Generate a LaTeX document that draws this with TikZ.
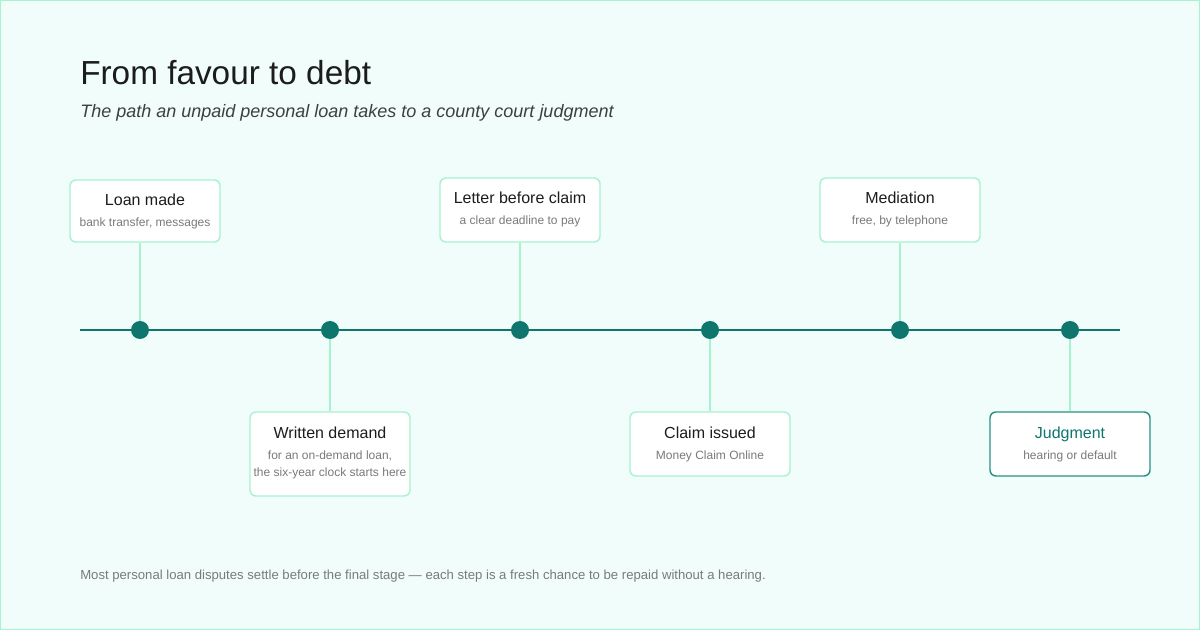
\documentclass[tikz,border=0pt]{standalone}
\usepackage{fontspec}
\setmainfont{Liberation Sans}
\definecolor{bgmint}{HTML}{F0FDFA}
\definecolor{edgemint}{HTML}{A7F3D0}
\definecolor{darkteal}{HTML}{0F766E}
\definecolor{midteal}{HTML}{2A9086}
\definecolor{inkgray}{HTML}{1C1C1C}
\definecolor{subgray}{HTML}{3F3F3F}
\definecolor{notegray}{HTML}{7A7A7A}
\begin{document}
\begin{tikzpicture}[x=0.75pt,y=-0.75pt,
  stepbox/.style={draw=edgemint,fill=white,line width=1.1pt,rounded corners=4.5pt,inner sep=0pt},
  steptitle/.style={anchor=base,inner sep=0pt,font=\fontsize{12}{14}\selectfont,text=inkgray},
  stepnote/.style={anchor=base,inner sep=0pt,font=\fontsize{9}{12.75}\selectfont,text=notegray,align=center},
  stem/.style={draw=edgemint,line width=1.1pt},
  dot/.style={circle,fill=darkteal,minimum size=13.5pt,inner sep=0pt}]
  \useasboundingbox (0,0) rectangle (1200,630);
  \draw[fill=bgmint,draw=edgemint,line width=1pt] (0.5,0.5) rectangle (1199.5,629.5);

  % heading
  \node[anchor=base west,inner sep=0pt,font=\fontsize{25}{29}\selectfont,text=inkgray] (title) at (80,85) {From favour to debt};
  \node[anchor=base west,inner sep=0pt,font=\fontsize{13.5}{16}\selectfont\itshape,text=subgray] (subtitle) at (80,118) {The path an unpaid personal loan takes to a county court judgment};

  % boxes above the line
  \node[stepbox,minimum width=112.5pt,minimum height=46.5pt] (loan) at (145,211) {};
  \node[steptitle] (loant) at (145,206) {Loan made};
  \node[stepnote] (loann) at (145,227) {bank transfer, messages};

  \node[stepbox,minimum width=120pt,minimum height=48pt] (letter) at (520,210) {};
  \node[steptitle] (lettert) at (520,204) {Letter before claim};
  \node[stepnote] (lettern) at (520,225) {a clear deadline to pay};

  \node[stepbox,minimum width=120pt,minimum height=48pt] (mediation) at (900,210) {};
  \node[steptitle] (mediationt) at (900,204) {Mediation};
  \node[stepnote] (mediationn) at (900,225) {free, by telephone};

  % boxes below the line
  \node[stepbox,minimum width=120pt,minimum height=63pt] (demand) at (330,454) {};
  \node[steptitle] (demandt) at (330,439) {Written demand};
  \node[stepnote] (demandn) at (330,477) {for an on-demand loan,\\the six-year clock starts here};

  \node[stepbox,minimum width=120pt,minimum height=48pt] (claim) at (710,444) {};
  \node[steptitle] (claimt) at (710,439) {Claim issued};
  \node[stepnote] (claimn) at (710,460) {Money Claim Online};

  \node[stepbox,draw=midteal,minimum width=120pt,minimum height=48pt] (judgment) at (1070,444) {};
  \node[steptitle,text=darkteal] (judgmentt) at (1070,439) {Judgment};
  \node[stepnote] (judgmentn) at (1070,460) {hearing or default};

  % timeline
  \foreach \i/\x in {1/140,2/330,3/520,4/710,5/900,6/1070}
    \coordinate (p\i) at (\x,330);
  \coordinate (start) at (80,330);
  \coordinate (end) at (1120,330);
  \draw[stem] (p1) -- (p1 |- loan.south);
  \draw[stem] (p2) -- (p2 |- demand.north);
  \draw[stem] (p3) -- (p3 |- letter.south);
  \draw[stem] (p4) -- (p4 |- claim.north);
  \draw[stem] (p5) -- (p5 |- mediation.south);
  \draw[stem] (p6) -- (p6 |- judgment.north);
  \draw[darkteal,line width=1.8pt] (start) -- (end);
  \foreach \i in {1,...,6}
    \node[dot] (d\i) at (p\i) {};

  \node[anchor=base west,inner sep=0pt,font=\fontsize{9.85}{12}\selectfont,text=notegray] (footnote) at (80,580) {Most personal loan disputes settle before the final stage — each step is a fresh chance to be repaid without a hearing.};
\end{tikzpicture}
\end{document}
